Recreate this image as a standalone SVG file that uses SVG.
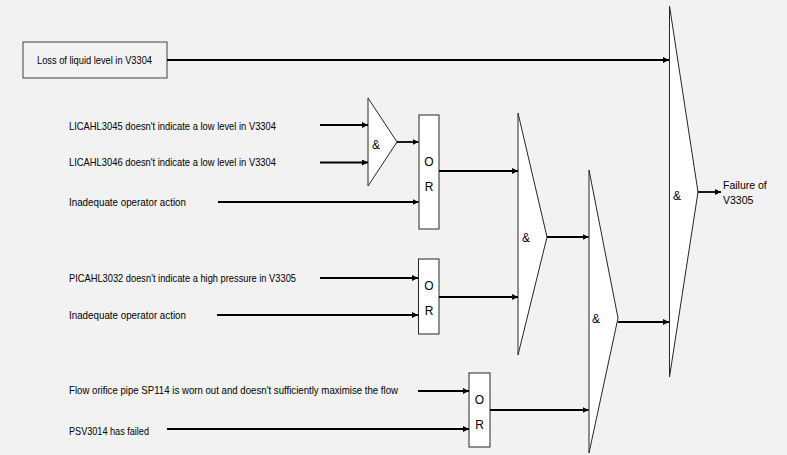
<svg xmlns="http://www.w3.org/2000/svg" width="787" height="455" viewBox="0 0 787 455">
<style>
.bg{fill:#f2f2f2}
.gate{fill:#ffffff;stroke:#262626;stroke-width:1}
.box{fill:#f2f2f2;stroke:#404040;stroke-width:1}
.lbl{font-family:"Liberation Sans",Arial,sans-serif;font-size:11px;fill:#000}
.gl{font-family:"Liberation Sans",Arial,sans-serif;font-size:12px;fill:#000;text-anchor:middle}
.out{font-family:"Liberation Sans",Arial,sans-serif;font-size:10.5px;fill:#000}
.conn line{stroke:#000;stroke-width:1.8;marker-end:url(#ah)}
</style>
<defs>
<marker id="ah" markerUnits="userSpaceOnUse" viewBox="0 0 6 6" refX="6" refY="3" markerWidth="6" markerHeight="6" orient="auto">
<path d="M0,0 L6,3 L0,6 z" fill="#000"/>
</marker>
</defs>
<rect class="bg" x="0" y="0" width="787" height="455"/>

<g id="ev-loss">
<rect class="box" x="23" y="42" width="144" height="36"/>
<text class="lbl" x="37" y="64" textLength="115" lengthAdjust="spacingAndGlyphs">Loss of liquid level in V3304</text>
</g>
<g id="ev-lica3045">
<text class="lbl" x="69" y="130" textLength="207" lengthAdjust="spacingAndGlyphs">LICAHL3045 doesn't indicate a low level in V3304</text>
</g>
<g id="ev-lica3046">
<text class="lbl" x="69" y="166" textLength="207" lengthAdjust="spacingAndGlyphs">LICAHL3046 doesn't indicate a low level in V3304</text>
</g>
<g id="ev-op1">
<text class="lbl" x="69" y="206" textLength="117" lengthAdjust="spacingAndGlyphs">Inadequate operator action</text>
</g>
<g id="ev-pica">
<text class="lbl" x="69" y="282" textLength="227" lengthAdjust="spacingAndGlyphs">PICAHL3032 doesn't indicate a high pressure in V3305</text>
</g>
<g id="ev-op2">
<text class="lbl" x="69" y="319" textLength="117" lengthAdjust="spacingAndGlyphs">Inadequate operator action</text>
</g>
<g id="ev-flow">
<text class="lbl" x="69" y="394" textLength="329" lengthAdjust="spacingAndGlyphs">Flow orifice pipe SP114 is worn out and doesn't sufficiently maximise the flow</text>
</g>
<g id="ev-psv">
<text class="lbl" x="69" y="435" textLength="80" lengthAdjust="spacingAndGlyphs">PSV3014 has failed</text>
</g>

<g id="and-small">
<polygon class="gate" points="368,98 397,142 368,186"/>
<text class="gl" x="376" y="149">&amp;</text>
</g>
<g id="or-1">
<rect class="gate" x="419" y="115" width="20" height="114"/>
<text class="gl" x="429" y="166">O</text>
<text class="gl" x="429" y="191">R</text>
</g>
<g id="or-2">
<rect class="gate" x="418.5" y="259" width="20.5" height="75"/>
<text class="gl" x="429" y="290">O</text>
<text class="gl" x="429" y="315">R</text>
</g>
<g id="or-3">
<rect class="gate" x="469" y="373" width="21" height="74"/>
<text class="gl" x="479.5" y="404">O</text>
<text class="gl" x="479.5" y="429">R</text>
</g>
<g id="and-mid">
<polygon class="gate" points="518,113 547,237 518,355"/>
<text class="gl" x="526" y="242">&amp;</text>
</g>
<g id="and-low">
<polygon class="gate" points="589,170 618,318 589,453"/>
<text class="gl" x="596" y="323">&amp;</text>
</g>
<g id="and-top">
<polygon class="gate" points="669.5,6 698,192 669.5,377"/>
<text class="gl" x="677" y="200">&amp;</text>
</g>
<g id="top-event">
<text class="out" x="723" y="189">Failure of</text>
<text class="out" x="723" y="204">V3305</text>
</g>

<g id="connectors" class="conn">
<line x1="167" y1="60" x2="669" y2="60"/>
<line x1="320" y1="125" x2="368" y2="125"/>
<line x1="320" y1="162.5" x2="368" y2="162.5"/>
<line x1="397" y1="142" x2="418.5" y2="142"/>
<line x1="218" y1="202" x2="418.5" y2="202"/>
<line x1="439" y1="171" x2="518" y2="171"/>
<line x1="320" y1="278" x2="418" y2="278"/>
<line x1="217" y1="315" x2="418" y2="315"/>
<line x1="439" y1="297" x2="518" y2="297"/>
<line x1="547" y1="237" x2="588.5" y2="237"/>
<line x1="418" y1="391" x2="469" y2="391"/>
<line x1="167" y1="429" x2="469" y2="429"/>
<line x1="490" y1="410" x2="588.5" y2="410"/>
<line x1="618" y1="322" x2="669" y2="322"/>
<line x1="698" y1="192" x2="721" y2="192"/>
</g>
</svg>
